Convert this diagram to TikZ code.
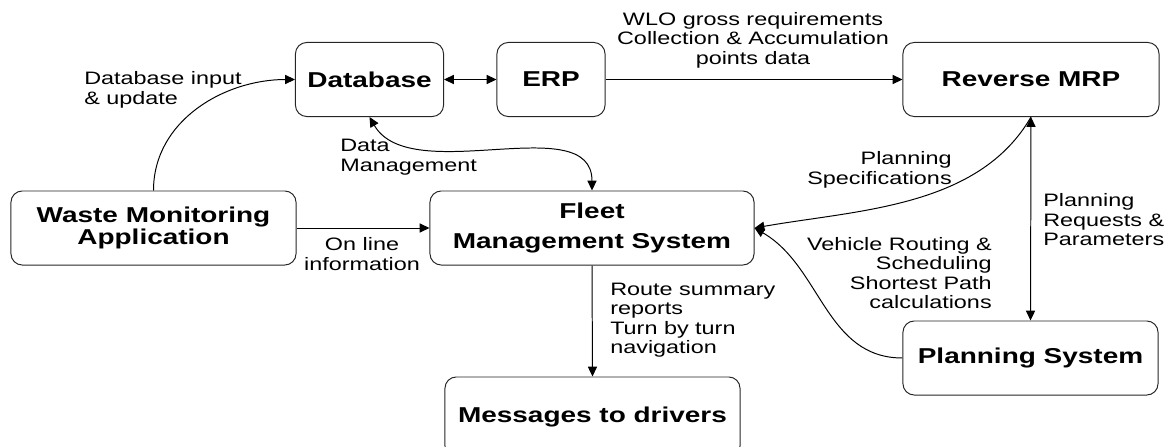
\documentclass[tikz,border=0pt]{standalone}
\usepackage{fontspec}
\setmainfont[FakeStretch=1.3]{Liberation Sans}
\usetikzlibrary{arrows.meta}
\usetikzlibrary{positioning}

\tikzset{
  block/.style={draw=black!85, line width=0.7pt, rounded corners=8pt, minimum height=1.85cm, align=center, font=\fontsize{15.3}{15.4}\selectfont\bfseries},
  lbl/.style={inner sep=0pt, font=\fontsize{12.8}{13.9}\selectfont},
  flow/.style={line width=0.7pt, -{Triangle[length=7pt,width=6.5pt]}},
  flowboth/.style={line width=0.7pt, {Triangle[length=7pt,width=6.5pt]}-{Triangle[length=7pt,width=6.5pt]}}
}

\begin{document}
\begin{tikzpicture}[x=0.025cm, y=0.025cm]
    \useasboundingbox (0,0) rectangle (1165,-447);
    % boxes
    \node[block, minimum width=3.7cm] (db) at (369.5,-79.5) {Database};
    \node[block, minimum width=2.7cm] (erp) at (551,-79.5) {ERP};
    \node[block, minimum width=6.4cm] (rmrp) at (1031,-79.5) {Reverse MRP};
    \node[block, minimum width=7.125cm] (wma) at (153.5,-228) {Waste Monitoring\\Application};
    \node[block, minimum width=8.1cm] (fms) at (592,-228) {Fleet\\[6.5pt]Management System};
    \node[block, minimum width=7.375cm, minimum height=2cm] (msg) at (592.5,-417) {Messages to drivers};
    \node[block, minimum width=6.375cm] (ps) at (1030.5,-358) {Planning System};

    % connectors
    \draw[flow] (wma.north) to[out=90, in=180] (db.west);
    \draw[flowboth] (db.east) -- (erp.west);
    \draw[flow] (erp.east) -- (rmrp.west);
    \draw[flowboth] (db.south) to[out=-60, in=90, looseness=0.9] (fms.north);
    \draw[flow] (wma.east) -- (fms.west);
    \draw[flow] (fms.south) -- (msg.north);
    \draw[flowboth] (rmrp.south) -- (ps.north);
    \draw[flow] (rmrp.south) to[out=-120, in=10, looseness=0.9] (fms.east);
    \draw[flow] (ps.west) to[out=180, in=-30] (fms.east);

    % labels
    \node[lbl, anchor=west, align=left] (l-dbin) at (84,-90) {Database input\\\& update};
    \node[lbl, align=center] (l-wlo) at (753,-40) {WLO gross requirements\\Collection \& Accumulation\\points data};
    \node[lbl, anchor=west, align=left] (l-dm) at (340,-157) {Data\\Management};
    \node[lbl, align=center] (l-online) at (362,-254) {On line\\information};
    \node[lbl, anchor=east, align=right] (l-spec) at (952,-170) {Planning\\Specifications};
    \node[lbl, anchor=east, align=right] (l-vrs) at (992,-273) {Vehicle Routing \&\\Scheduling\\Shortest Path\\calculations};
    \node[lbl, anchor=west, align=left] (l-req) at (1043,-220) {Planning\\Requests \&\\Parameters};
    \node[lbl, anchor=west, align=left] (l-route) at (610,-320) {Route summary\\reports\\Turn by turn\\navigation};
\end{tikzpicture}
\end{document}
